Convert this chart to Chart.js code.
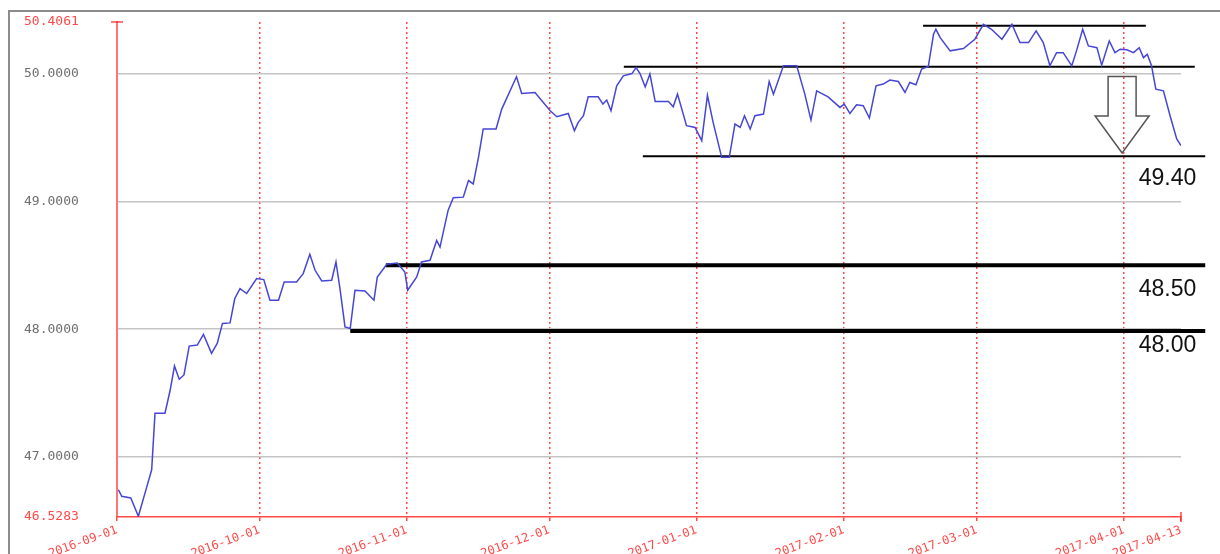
<!DOCTYPE html>
<html lang="en">
<head>
<meta charset="UTF-8">
<title>USD/RUB daily chart</title>
<script src="https://cdn.jsdelivr.net/npm/chart.js"></script>
<style>
    body{margin:0;padding:0;background:#fff;}
    canvas{display:block;}
</style>
</head>
<body>
<canvas id="priceChart" width="1220" height="554"></canvas>
<script>
/* ==== data (day offset from 2016-09-01, price) ==== */
const days = [0.3,1.0,2.9,4.5,6.3,7.3,8.0,10.1,11.2,12.1,13.1,14.1,15.2,16.9,18.2,19.9,21.1,22.2,23.8,24.8,
    25.9,27.3,29.4,30.9,32.2,34.0,35.2,37.8,39.2,40.6,41.7,43.1,45.2,46.1,46.9,48.0,49.1,50.1,52.2,54.1,
    54.8,56.8,59.0,60.6,61.2,63.1,64.1,65.9,67.3,68.0,69.7,70.8,72.9,74.0,75.0,76.1,77.1,79.8,81.0,84.1,
    85.2,88.0,91.2,92.6,95.0,96.3,97.1,98.2,99.2,101.3,102.3,103.1,104.0,105.2,106.6,108.4,109.3,110.1,111.2,112.2,
    113.3,116.1,117.1,118.0,119.9,121.7,123.1,124.3,125.5,127.3,128.9,130.1,131.2,132.1,133.3,134.3,136.1,137.3,138.2,140.3,
    143.1,144.8,146.1,147.3,149.7,152.2,153.1,154.3,155.7,157.1,158.4,159.8,161.3,162.7,164.5,165.9,166.9,168.2,169.4,170.8,
    171.9,172.4,173.3,175.4,178.2,180.6,182.4,184.1,186.3,188.4,190.1,191.9,193.5,195.0,196.4,197.8,199.2,201.0,202.0,203.3,
    204.5,206.3,207.3,208.9,210.1,211.2,212.6,214.0,215.2,216.1,216.9,217.8,218.7,220.3,221.7,223.1,224.0];
const prices = [46.742,46.690,46.677,46.534,46.768,46.898,47.341,47.341,47.523,47.711,47.607,47.641,47.867,47.875,47.959,47.810,47.888,48.045,48.049,48.240,
    48.318,48.279,48.396,48.388,48.227,48.227,48.370,48.370,48.435,48.586,48.461,48.377,48.383,48.526,48.330,48.018,48.005,48.305,48.299,48.227,
    48.409,48.508,48.518,48.448,48.305,48.409,48.526,48.539,48.695,48.643,48.930,49.029,49.034,49.164,49.138,49.346,49.568,49.568,49.724,49.977,
    49.846,49.854,49.711,49.664,49.690,49.555,49.620,49.672,49.820,49.820,49.763,49.795,49.711,49.906,49.984,50.002,50.049,50.002,49.898,49.998,
    49.784,49.784,49.742,49.841,49.594,49.580,49.477,49.832,49.620,49.346,49.346,49.607,49.580,49.672,49.568,49.672,49.685,49.940,49.841,50.063,
    50.063,49.841,49.638,49.867,49.820,49.737,49.763,49.690,49.758,49.750,49.654,49.906,49.920,49.951,49.940,49.854,49.932,49.914,50.037,50.057,
    50.310,50.349,50.284,50.180,50.198,50.271,50.388,50.349,50.271,50.388,50.245,50.245,50.336,50.245,50.063,50.166,50.166,50.063,50.180,50.349,
    50.219,50.205,50.068,50.258,50.166,50.193,50.188,50.166,50.205,50.127,50.154,50.063,49.880,49.867,49.672,49.490,49.438];

const tickDays   = [0,30,61,91,122,153,181,212,224];
const tickLabels = ['2016-09-01','2016-10-01','2016-11-01','2016-12-01','2017-01-01','2017-02-01','2017-03-01','2017-04-01','2017-04-13'];
const yTicks     = [46.5283,47,48,49,50,50.4061];

/* drawn support / resistance levels */
const levelValues = [50.377,50.056,49.355,48.50,47.985];
const levelStart  = [169.7,106.7,110.7,56.6,49.1];
const levelEnd    = [216.6,226.9,229.1,229.1,229.1];
const levelTexts  = ['49.40','48.50','48.00'];
const levelTextOf = [2,3,4];

/* hollow arrow (day, top, neck, tip) */
const arrowDay = 211.6, arrowTop = 49.98, arrowNeck = 49.67, arrowTip = 49.38;

/* ==== styles ==== */
const RED = 'rgba(255,40,40,0.85)';
const levelWidths = [2,2,2,4,4];
const textDy = [29,31,21];

const overlay = {
    id:'overlay',
    beforeDraw(chart){
        const c = chart.ctx;
        c.save();
        c.fillStyle = '#fff';
        c.fillRect(0,0,chart.width,chart.height);
        c.strokeStyle = '#8c8c8c';
        c.lineWidth = 2;
        c.beginPath();
        c.moveTo(9,chart.height); c.lineTo(9,11); c.lineTo(chart.width,11);
        c.stroke();
        c.restore();
    },
    afterDatasetsDraw(chart){
        const {ctx:c, scales:{x,y}, chartArea:a} = chart;
        c.save();
        // arrow
        const ax = x.getPixelForValue(arrowDay);
        const yt = y.getPixelForValue(arrowTop), yn = y.getPixelForValue(arrowNeck), yp = y.getPixelForValue(arrowTip);
        c.strokeStyle = '#555'; c.lineWidth = 1.5;
        c.beginPath();
        c.moveTo(ax-14,yt); c.lineTo(ax+14,yt); c.lineTo(ax+14,yn); c.lineTo(ax+27,yn);
        c.lineTo(ax,yp); c.lineTo(ax-27,yn); c.lineTo(ax-14,yn); c.closePath();
        c.stroke();
        // level labels
        c.font = '23px "Liberation Sans", Arial, sans-serif';
        c.fillStyle = '#111'; c.textAlign = 'right'; c.textBaseline = 'alphabetic';
        levelTexts.forEach((t,i)=>{
            const li = levelTextOf[i];
            c.fillText(t, x.getPixelForValue(levelEnd[li]) - 9, y.getPixelForValue(levelValues[li]) + textDy[i]);
        });
        // axis end caps
        c.strokeStyle = RED; c.lineWidth = 1.5;
        c.beginPath();
        c.moveTo(a.left-6,a.top); c.lineTo(a.left+6,a.top);
        c.moveTo(a.right,a.bottom-5); c.lineTo(a.right,a.bottom+5);
        c.stroke();
        c.restore();
    }
};

const levelSets = levelValues.map((v,i)=>({
    data:[{x:levelStart[i],y:v},{x:levelEnd[i],y:v}],
    borderColor:'#000',
    borderWidth:levelWidths[i],
    pointRadius:0,
    clip:false,
    order:2
}));

new Chart(document.getElementById('priceChart'),{
    type:'line',
    data:{
        datasets:[{
            data:days.map((d,i)=>({x:d,y:prices[i]})),
            borderColor:'#4646d6',
            borderWidth:1.5,
            pointRadius:0,
            tension:0,
            order:1
        }, ...levelSets]
    },
    options:{
        responsive:false,
        animation:false,
        layout:{padding:{left:24,right:39,top:22,bottom:0}},
        plugins:{legend:{display:false},tooltip:{enabled:false}},
        scales:{
            x:{
                type:'linear',
                min:0, max:224,
                afterBuildTicks:s=>{ s.ticks = tickDays.map(v=>({value:v})); },
                afterFit:s=>{ s.height = 37; },
                grid:{
                    color:c=> (c.tick && (c.tick.value===0 || c.tick.value===224)) ? 'rgba(0,0,0,0)' : RED,
                    lineWidth:1.5,
                    tickLength:4,
                    tickColor:RED
                },
                border:{color:RED,width:1.5,dash:[2,3]},
                ticks:{
                    autoSkip:false,
                    minRotation:20, maxRotation:20,
                    padding:2,
                    color:RED,
                    font:{family:'"DejaVu Sans Mono", monospace',size:12},
                    callback:v=> tickLabels[tickDays.indexOf(v)]
                }
            },
            y:{
                min:yTicks[0], max:yTicks[yTicks.length-1],
                afterBuildTicks:s=>{ s.ticks = yTicks.map(v=>({value:v})); },
                afterFit:s=>{ s.width = 93; },
                grid:{
                    color:c=> (c.tick && (c.tick.value===yTicks[0] || c.tick.value===yTicks[yTicks.length-1])) ? 'rgba(0,0,0,0)' : '#c4c4c4',
                    lineWidth:1.5,
                    drawTicks:false
                },
                border:{color:'rgba(255,70,70,0.75)',width:2},
                ticks:{
                    crossAlign:'far',
                    color:c=> (c.tick.value===yTicks[0] || c.tick.value===yTicks[yTicks.length-1]) ? RED : '#6e6e6e',
                    font:{family:'"DejaVu Sans Mono", monospace',size:13},
                    callback:v=> v.toFixed(4)
                }
            }
        }
    },
    plugins:[overlay]
});
</script>
</body>
</html>
